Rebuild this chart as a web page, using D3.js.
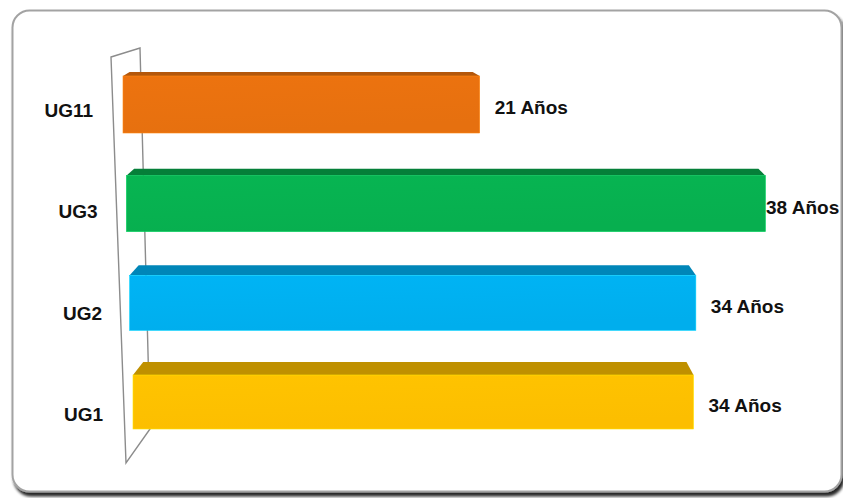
<!DOCTYPE html>
<html>
<head>
<meta charset="utf-8">
<script src="https://cdn.jsdelivr.net/npm/d3@7"></script>
<style>
  html, body { margin: 0; padding: 0; background: #ffffff; }
  svg { display: block; }
</style>
</head>
<body>
<div id="chart"></div>
<script>
// ---- data ----
const categories = ["UG11", "UG3", "UG2", "UG1"];
const values = [21, 38, 34, 34];
const unit = "Años";
const frontColors = ["#E8710F", "#07B150", "#00B0F0", "#FFC000"];
const topColors = ["#B4570B", "#057F39", "#0086B8", "#BF9000"];

// ---- layout ----
const W = 843, H = 498;
const svg = d3.select("#chart").append("svg").attr("width", W).attr("height", H);
const defs = svg.append("defs");

const shadow = defs.append("filter").attr("id", "shadow")
  .attr("x", "-5%").attr("y", "-5%").attr("width", "110%").attr("height", "115%");
shadow.append("feGaussianBlur").attr("in", "SourceAlpha").attr("stdDeviation", 1.8).attr("result", "b");
shadow.append("feOffset").attr("in", "b").attr("dx", 2).attr("dy", 3.5).attr("result", "o");
shadow.append("feComponentTransfer").attr("in", "o").attr("result", "s")
  .append("feFuncA").attr("type", "linear").attr("slope", 0.85);
const m = shadow.append("feMerge");
m.append("feMergeNode").attr("in", "s");
m.append("feMergeNode").attr("in", "SourceGraphic");

// frame
svg.append("rect")
  .attr("x", 12.5).attr("y", 10.5).attr("width", 829).attr("height", 481)
  .attr("rx", 17).attr("ry", 17)
  .attr("fill", "#ffffff").attr("stroke", "#a3a3a3").attr("stroke-width", 2)
  .attr("filter", "url(#shadow)");

// gradient per bar front
frontColors.forEach((c, i) => {
  const g = defs.append("linearGradient").attr("id", "gf" + i)
    .attr("x1", "0").attr("y1", "0").attr("x2", "0.3").attr("y2", "1");
  g.append("stop").attr("offset", "0").attr("stop-color", d3.color(c).brighter(0.06));
  g.append("stop").attr("offset", "1").attr("stop-color", d3.color(c).darker(0.03));
});

// back wall (perspective floor plane)
svg.append("polygon")
  .attr("points", [[111, 57], [140, 48], [150, 429], [126, 463]].map(p => p.join(",")).join(" "))
  .attr("fill", "none").attr("stroke", "#8c8c8c").attr("stroke-width", 1.4);

// scales
const yC = d3.scalePoint().domain(categories).range([104.5, 402]);
const yLab = d3.scalePoint().domain(categories).range([110, 414]);
const x = d3.scaleLinear().domain([0, 38]).range([0, 639]);

const rows = categories.map((c, i) => {
  const cy = yC(c);
  const x0 = 123 + (cy - 104.5) * 10 / 297.5;
  const f = 1 - (cy - 205.5) * 0.0001;
  const x1 = x0 + x(values[i]) * f;
  const h = 57 - i;
  const top = cy - h / 2;
  const dy = 4 + 3 * i;
  const dxL = 5 + dy * 0.4;
  const dxR = 7;
  return { c, i, v: values[i], cy, x0, x1, h, top, dy, dxL, dxR };
});

const bars = svg.append("g");
rows.forEach(r => {
  // top face
  bars.append("polygon")
    .attr("points", [
      [r.x0, r.top], [r.x0 + r.dxL, r.top - r.dy],
      [r.x1 - r.dxR, r.top - r.dy], [r.x1, r.top]
    ].map(p => p.join(",")).join(" "))
    .attr("fill", topColors[r.i]);
  // front face
  bars.append("rect")
    .attr("x", r.x0).attr("y", r.top)
    .attr("width", r.x1 - r.x0).attr("height", r.h)
    .attr("fill", "url(#gf" + r.i + ")")
    .attr("stroke", d3.color(frontColors[r.i]).brighter(0.5)).attr("stroke-width", 0.6);
});

// category labels
svg.append("g").selectAll("text").data(rows).join("text")
  .attr("x", d => 93 + Math.min(d.i, 2) * 4.5 + (d.i === 3 ? 1 : 0))
  .attr("y", d => yLab(d.c))
  .attr("dy", "0.36em")
  .attr("text-anchor", "end")
  .attr("font-family", "'Liberation Sans', Arial, sans-serif")
  .attr("font-weight", "bold").attr("font-size", 19)
  .attr("fill", "#111")
  .text(d => d.c);

// value labels
svg.append("g").selectAll("text").data(rows).join("text")
  .attr("x", d => Math.min(d.x1 + 15, 766))
  .attr("y", d => d.cy + 3)
  .attr("dy", "0.36em")
  .attr("font-family", "'Liberation Sans', Arial, sans-serif")
  .attr("font-weight", "bold").attr("font-size", 19)
  .attr("fill", "#111")
  .text(d => d.v + " " + unit);
</script>
</body>
</html>
